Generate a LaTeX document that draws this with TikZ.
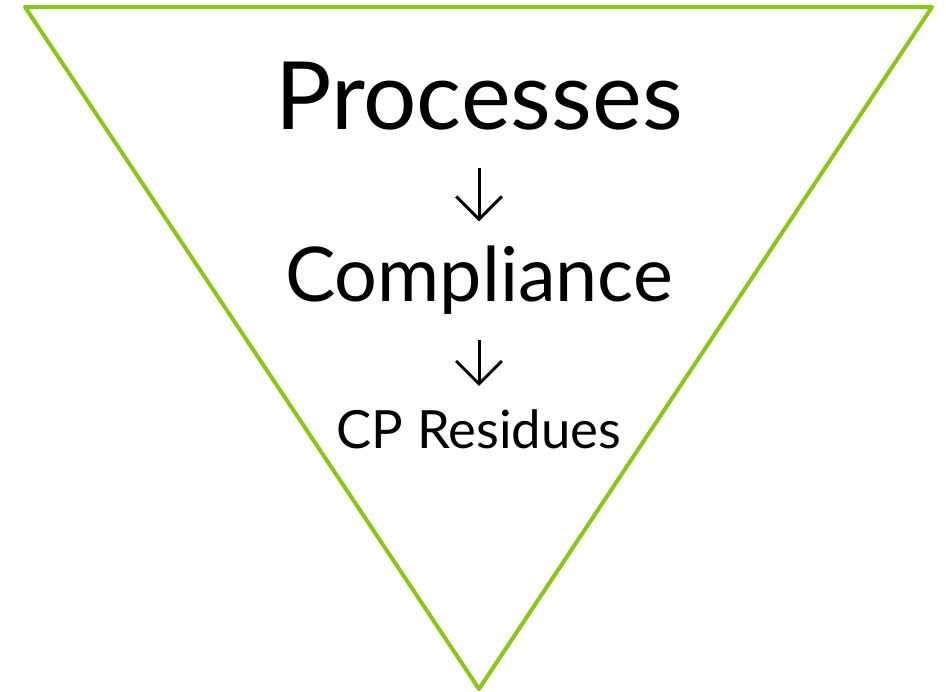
\documentclass[tikz,border=0pt]{standalone}
\usepackage{fontspec}
\setmainfont{Lato}
\usetikzlibrary{arrows.meta}
\definecolor{limegreen}{RGB}{142,196,30}
\begin{document}
\begin{tikzpicture}[x=0.02cm,y=-0.02cm,
    funnel/.style={draw=limegreen,line width=2.3pt,line join=round},
    label/.style={inner sep=0pt,anchor=base},
    flow/.style={line width=1.7pt,-{Straight Barb[length=13pt,width=26pt]}}]
    \useasboundingbox (0,0) rectangle (946,692);
    \draw[funnel] (25,7) -- (932,7) -- (479,689) -- cycle;
    \node[label,font=\fontsize{53.6}{58}\selectfont] (proc) at (479,130) {Processes};
    \node[label,font=\fontsize{43}{47}\selectfont] (comp) at (479,302) {Compliance};
    \node[label,font=\fontsize{30}{34}\selectfont] (resid) at (479,448) {CP Residues};
    \draw[flow,shorten <=21pt,shorten >=14pt] (proc.south) -- (comp.north);
    \draw[flow,shorten <=14pt,shorten >=13pt] (comp.south) -- (resid.north);
\end{tikzpicture}
\end{document}
